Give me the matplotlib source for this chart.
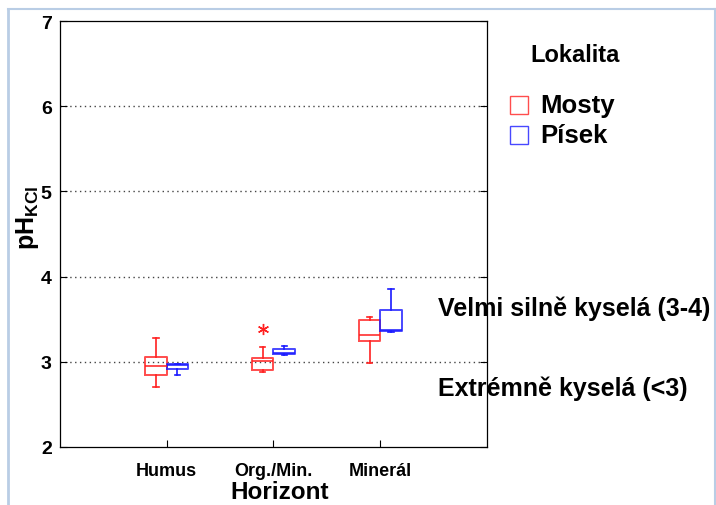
import numpy as np
import matplotlib
matplotlib.use("Agg")
import matplotlib.pyplot as plt
from matplotlib.lines import Line2D
from matplotlib.patches import Rectangle

plt.rcParams['font.family'] = ['Liberation Sans', 'DejaVu Sans']
plt.rcParams['mathtext.fontset'] = 'custom'
plt.rcParams['mathtext.rm'] = 'Liberation Sans'
plt.rcParams['mathtext.bf'] = 'Liberation Sans:bold'

horizons = ['Humus', 'Org./Min.', 'Minerál']
sites = ['Mosty', 'Písek']
colors = ['#ff2020', '#1a1aff']

# whislo, q1, med, q3, whishi per horizon
mosty_lo = [2.71, 2.88, 2.99]
mosty_q1 = [2.84, 2.90, 3.25]
mosty_med = [2.95, 3.01, 3.31]
mosty_q3 = [3.06, 3.05, 3.49]
mosty_hi = [3.28, 3.17, 3.53]
mosty_out = [[], [3.38], []]

pisek_lo = [2.85, 3.08, 3.35]
pisek_q1 = [2.91, 3.09, 3.36]
pisek_med = [2.96, 3.10, 3.37]
pisek_q3 = [2.97, 3.15, 3.61]
pisek_hi = [2.98, 3.18, 3.85]
pisek_out = [[], [], []]

zones = ['Velmi silně kyselá (3-4)', 'Extrémně kyselá (<3)']
zone_y = [3.64, 2.70]


def stats(lo, q1, med, q3, hi, out):
    return [dict(whislo=a, q1=b, med=c, q3=d, whishi=e, fliers=f)
            for a, b, c, d, e, f in zip(lo, q1, med, q3, hi, out)]


fig = plt.figure(figsize=(7.16, 5.06), dpi=100)
ax = fig.add_axes([60 / 716, 58 / 506, 427 / 716, 426 / 506])

pos = np.arange(1, len(horizons) + 1)
groups = [stats(mosty_lo, mosty_q1, mosty_med, mosty_q3, mosty_hi, mosty_out),
          stats(pisek_lo, pisek_q1, pisek_med, pisek_q3, pisek_hi, pisek_out)]
for k, (st, c) in enumerate(zip(groups, colors)):
    off = -0.1 if k == 0 else 0.1
    ax.bxp(st, positions=pos + off, widths=0.2, showfliers=True,
           boxprops=dict(color=c, lw=1.4, alpha=0.8),
           medianprops=dict(color=c, lw=1.4, alpha=0.8),
           whiskerprops=dict(color=c, lw=1.2),
           capprops=dict(color=c, lw=1.2),
           capwidths=0.05,
           flierprops=dict(marker=(6, 2, 0), markeredgecolor=c, markersize=8, lw=0))

ax.set_xlim(0, 4)
ax.set_ylim(2, 7)
ax.set_xticks(pos)
ax.set_xticklabels(horizons, fontsize=13, fontweight='bold')
ax.set_yticks(range(2, 8))
ax.set_yticklabels([str(v) for v in range(2, 8)], fontsize=14, fontweight='bold')
ax.tick_params(axis='y', direction='in', length=5, right=True, pad=6, width=0.8)
ax.tick_params(axis='x', direction='in', length=5, pad=11, width=0.8)
for s in ax.spines.values():
    s.set_linewidth(0.9)
for v in range(3, 7):
    ax.axhline(v, color='#444444', lw=1.0, ls=(0, (1, 2.5)), zorder=0)

ax.set_xlabel('Horizont', fontsize=17.5, fontweight='bold')
ax.xaxis.set_label_coords(0.515, -0.077)
ax.set_ylabel(r'$\mathbf{pH}_{\mathbf{KCl}}$', fontsize=18)
ax.yaxis.set_label_coords(-0.045, 0.54)

for t, y in zip(zones, zone_y):
    ax.text(3.54, y, t, fontsize=18, fontweight='bold', va='center', ha='left', clip_on=False)

# legend
fig.text(575 / 716, 1 - 56 / 506, 'Lokalita', fontsize=17, fontweight='bold', ha='center', va='center')
for i, (s, c) in enumerate(zip(sites, colors)):
    yc = 106 + i * 30
    fig.add_artist(Rectangle((510 / 716, 1 - (yc + 9) / 506), 18 / 716, 18 / 506,
                             transform=fig.transFigure, fill=False, ec=c, lw=1.0, alpha=0.8))
    fig.text(540 / 716, 1 - yc / 506, s, fontsize=18.5, fontweight='bold', ha='left', va='center')

# outer light frame
bc = '#b9cde5'
fig.add_artist(Line2D([8 / 716, 8 / 716], [0, 1 - 10 / 506], color=bc, lw=2, transform=fig.transFigure))
fig.add_artist(Line2D([8 / 716, 715 / 716], [1 - 10 / 506, 1 - 10 / 506], color=bc, lw=1.5, transform=fig.transFigure))
fig.add_artist(Line2D([715 / 716, 715 / 716], [0, 1 - 10 / 506], color=bc, lw=1.5, transform=fig.transFigure))

fig.savefig('out.png', dpi=100)
